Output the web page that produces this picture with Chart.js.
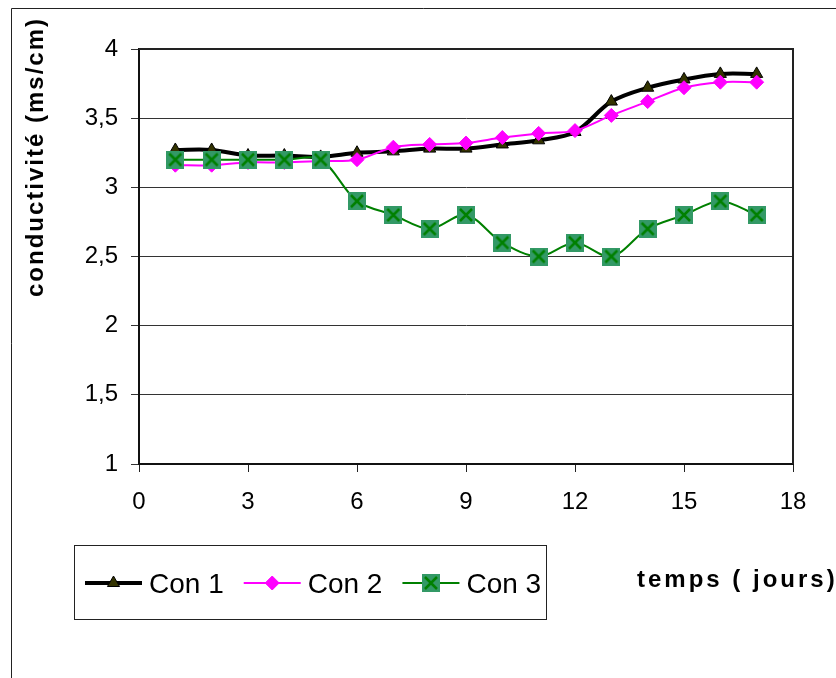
<!DOCTYPE html>
<html>
<head>
<meta charset="utf-8">
<script src="https://cdn.jsdelivr.net/npm/chart.js@4.4.1/dist/chart.umd.min.js"></script>
<style>
  html, body { margin: 0; padding: 0; background: #fff; }
  #wrap { width: 836px; height: 678px; }
</style>
</head>
<body>
<div id="wrap"><canvas id="chart" width="836" height="678"></canvas></div>
<script>
// data
const days = [1, 2, 3, 4, 5, 6, 7, 8, 9, 10, 11, 12, 13, 14, 15, 16, 17];
const con1 = [3.27, 3.27, 3.23, 3.23, 3.22, 3.25, 3.26, 3.28, 3.28, 3.31, 3.34, 3.40, 3.62, 3.72, 3.78, 3.82, 3.82];
const con2 = [3.16, 3.16, 3.18, 3.18, 3.19, 3.20, 3.29, 3.31, 3.32, 3.36, 3.39, 3.41, 3.52, 3.62, 3.72, 3.76, 3.76];
const con3 = [3.2, 3.2, 3.2, 3.2, 3.2, 2.9, 2.8, 2.7, 2.8, 2.6, 2.5, 2.6, 2.5, 2.7, 2.8, 2.9, 2.8];
const seriesNames = ['Con 1', 'Con 2', 'Con 3'];
const xTicks = [0, 3, 6, 9, 12, 15, 18];
const yTicks = [1, 1.5, 2, 2.5, 3, 3.5, 4];
const xTitle = 'temps ( jours)';
const yTitle = 'conductivité (ms/cm)';

const FONT = '"Liberation Sans", Arial, sans-serif';

// green square with a cross (Excel marker)
function makeCrossBox() {
    const c = document.createElement('canvas');
    c.width = 18; c.height = 18;
    const g = c.getContext('2d');
    g.fillStyle = '#339966';
    g.fillRect(0, 0, 18, 18);
    g.strokeStyle = '#008000';
    g.lineWidth = 2.5;
    g.beginPath();
    g.moveTo(3, 3); g.lineTo(15, 15);
    g.moveTo(15, 3); g.lineTo(3, 15);
    g.stroke();
    return c;
}

const toPoints = (vals) => days.map((d, i) => ({ x: d, y: vals[i] }));

const frame = {
    id: 'frame',
    beforeDraw(chart) {
        const ctx = chart.ctx;
        ctx.save();
        ctx.fillStyle = '#fff';
        ctx.fillRect(0, 0, chart.width, chart.height);
        ctx.strokeStyle = '#222';
        ctx.lineWidth = 1;
        ctx.beginPath();
        ctx.moveTo(11.5, chart.height);
        ctx.lineTo(11.5, 8.5);
        ctx.lineTo(chart.width, 8.5);
        ctx.stroke();
        ctx.restore();
    },
    beforeDatasetsDraw(chart) {
        const a = chart.chartArea;
        const ctx = chart.ctx;
        ctx.save();
        ctx.strokeStyle = '#222';
        ctx.lineWidth = 2;
        ctx.beginPath();
        ctx.moveTo(a.left, a.top);
        ctx.lineTo(a.right, a.top);
        ctx.lineTo(a.right, a.bottom);
        ctx.stroke();
        ctx.restore();
    }
};

const legendAndTitles = {
    id: 'legendAndTitles',
    afterDraw(chart) {
        const ctx = chart.ctx;
        ctx.save();

        // legend box
        ctx.strokeStyle = '#222';
        ctx.lineWidth = 1;
        ctx.strokeRect(74.5, 545.5, 472, 74);
        ctx.font = '28px ' + FONT;
        ctx.textBaseline = 'alphabetic';
        ctx.textAlign = 'left';
        let x = 85;
        const y = 583;
        chart.data.datasets.forEach(ds => {
            ctx.strokeStyle = ds.borderColor;
            ctx.lineWidth = ds.borderWidth;
            ctx.beginPath();
            ctx.moveTo(x, y);
            ctx.lineTo(x + 57, y);
            ctx.stroke();
            ctx.fillStyle = ds.pointBackgroundColor;
            ctx.strokeStyle = ds.pointBorderColor;
            ctx.lineWidth = ds.pointBorderWidth;
            Chart.helpers.drawPoint(ctx, {
                pointStyle: ds.pointStyle,
                radius: ds.pointRadius,
                borderWidth: ds.pointBorderWidth,
                rotation: 0
            }, x + 28.5, y);
            ctx.fillStyle = '#000';
            ctx.fillText(ds.label, x + 64, 593);
            x = x + 64 + ctx.measureText(ds.label).width + 20;
        });

        // axis titles
        ctx.fillStyle = '#000';
        ctx.font = 'bold 24px ' + FONT;
        ctx.letterSpacing = '3px';
        ctx.fillText(xTitle, 637, 587);

        ctx.font = 'bold 24px ' + FONT;
        ctx.letterSpacing = '2px';
        ctx.translate(43, 297);
        ctx.rotate(-Math.PI / 2);
        ctx.fillText(yTitle, 0, 0);
        ctx.restore();
    }
};

new Chart(document.getElementById('chart'), {
    type: 'line',
    data: {
        datasets: [
            {
                label: seriesNames[0],
                data: toPoints(con1),
                borderColor: '#000000',
                borderWidth: 4,
                pointStyle: 'triangle',
                pointRadius: 7,
                pointBackgroundColor: '#333300',
                pointBorderColor: '#000000',
                pointBorderWidth: 1,
                tension: 0.33,
                order: 3
            },
            {
                label: seriesNames[1],
                data: toPoints(con2),
                borderColor: '#FF00FF',
                borderWidth: 2,
                pointStyle: 'rectRot',
                pointRadius: 7,
                pointBackgroundColor: '#FF00FF',
                pointBorderColor: '#FF00FF',
                pointBorderWidth: 1,
                tension: 0.33,
                order: 2
            },
            {
                label: seriesNames[2],
                data: toPoints(con3),
                borderColor: '#008000',
                borderWidth: 2,
                pointStyle: makeCrossBox(),
                pointRadius: 9,
                pointBackgroundColor: '#339966',
                pointBorderColor: '#008000',
                pointBorderWidth: 0,
                tension: 0.33,
                order: 1
            }
        ]
    },
    options: {
        responsive: false,
        animation: false,
        layout: { padding: { left: 39, top: 49, right: 43, bottom: 154 } },
        plugins: { legend: { display: false }, tooltip: { enabled: false } },
        scales: {
            x: {
                type: 'linear',
                min: 0,
                max: 18,
                afterBuildTicks: (s) => { s.ticks = xTicks.map(v => ({ value: v })); },
                afterFit: (s) => { s.height = 60; },
                grid: { drawOnChartArea: false, drawTicks: true, tickLength: 8, color: '#222' },
                border: { color: '#111', width: 2 },
                ticks: { font: { family: FONT, size: 24 }, color: '#000', padding: 16, maxRotation: 0, autoSkip: false }
            },
            y: {
                min: 1,
                max: 4,
                afterBuildTicks: (s) => { s.ticks = yTicks.map(v => ({ value: v })); },
                afterFit: (s) => { s.width = 100; },
                grid: { color: '#333', tickLength: 8 },
                border: { color: '#111', width: 2 },
                ticks: {
                    font: { family: FONT, size: 24 },
                    color: '#000',
                    padding: 13,
                    callback: (v) => String(v).replace('.', ',')
                }
            }
        }
    },
    plugins: [frame, legendAndTitles]
});
</script>
</body>
</html>
